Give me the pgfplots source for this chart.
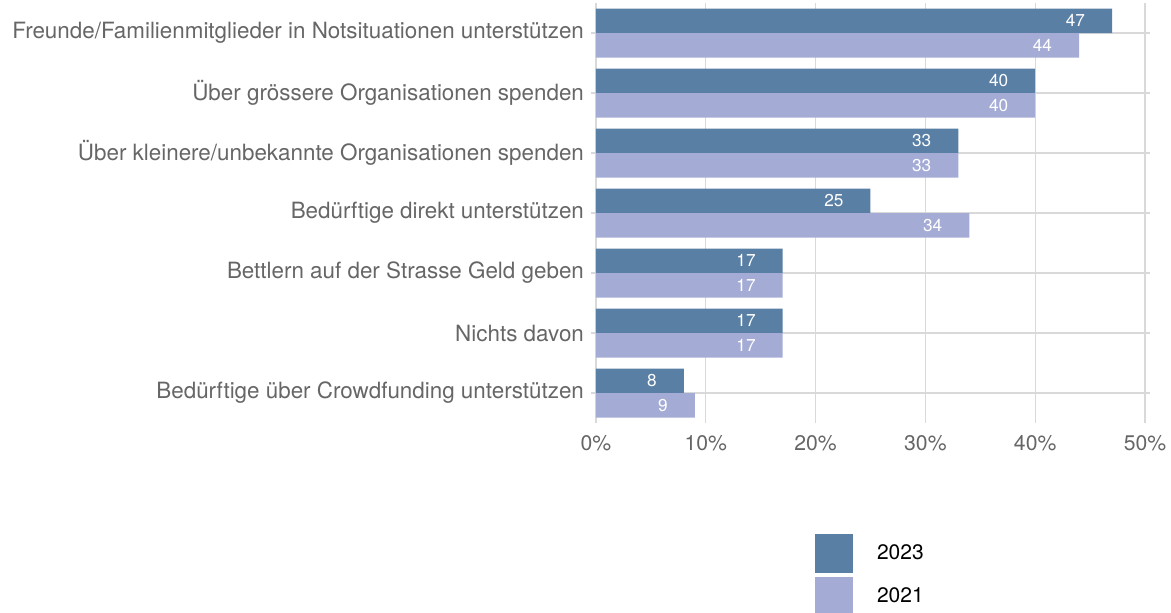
\documentclass[border=0pt]{standalone}
\usepackage{fontspec}
\setmainfont{TeX Gyre Heros}
\usepackage{pgfplots}
\usepackage{pgfplotstable}
\pgfplotsset{compat=1.18}
\definecolor{Bar23}{RGB}{89,127,165}
\definecolor{Bar21}{RGB}{164,172,214}
\definecolor{GridGray}{RGB}{217,217,217}
\definecolor{LabelGray}{RGB}{102,102,102}

% rows from bottom (0) to top (6)
\pgfplotstableread{
pos y2023 y2021
6 47 44
5 40 40
4 33 33
3 25 34
2 17 17
1 17 17
0 8 9
}\spenden

\begin{document}
\begin{tikzpicture}
\useasboundingbox (-298pt,-94.5pt) rectangle (287.5pt,211.5pt);
\begin{axis}[
    at={(0,0)}, anchor=south west,
    scale only axis, width=274.5pt, height=210pt,
    xbar, bar width=12.25pt,
    xmin=0, xmax=50, ymin=-0.5, ymax=6.5,
    xtick={0,10,...,50},
    xticklabels={0\%,10\%,20\%,30\%,40\%,50\%},
    ytick={0,...,6},
    yticklabels={Bedürftige über Crowdfunding unterstützen,
                 Nichts davon,
                 Bettlern auf der Strasse Geld geben,
                 Bedürftige direkt unterstützen,
                 Über kleinere/unbekannte Organisationen spenden,
                 Über grössere Organisationen spenden,
                 Freunde/Familienmitglieder in Notsituationen unterstützen},
    axis line style={draw=none},
    xmajorgrids, ymajorgrids,
    grid style={GridGray, line width=0.6pt},
    tick align=outside, major tick length=2.5pt,
    x tick style={draw=none},
    y tick style={GridGray, line width=0.6pt},
    xticklabel style={font=\fontsize{10.6}{12}\selectfont, text=LabelGray},
    yticklabel style={font=\fontsize{11.2}{13}\selectfont, text=LabelGray},
    nodes near coords={\pgfmathprintnumber[assume math mode=true]{\pgfplotspointmeta}},
    every node near coord/.append style={anchor=east, xshift=-10pt, text=white,
        font=\fontsize{8.6}{10}\selectfont},
    legend style={at={(0.399,-0.264)}, anchor=north west, draw=none, fill=none,
        inner sep=0pt, outer sep=0pt, row sep=2pt,
        font=\fontsize{10.5}{12}\selectfont,
        /tikz/every odd column/.append style={column sep=10pt}},
    legend cell align=left,
    legend image code/.code={\fill (0pt,-9.75pt) rectangle (19pt,9.75pt);},
]
\addplot[draw=none, fill=Bar23, bar shift=6.125pt] table[x=y2023, y=pos] {\spenden};
\addplot[draw=none, fill=Bar21, bar shift=-6.125pt] table[x=y2021, y=pos] {\spenden};
\legend{2023, 2021}
\end{axis}
\end{tikzpicture}
\end{document}
